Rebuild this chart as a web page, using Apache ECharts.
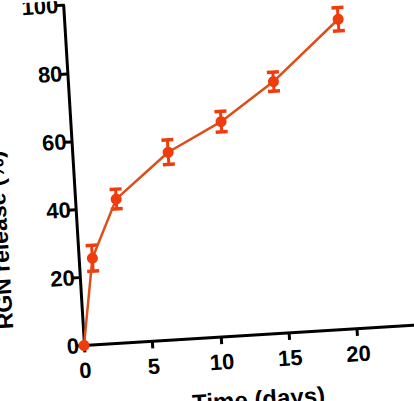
<!DOCTYPE html>
<html>
<head>
<meta charset="utf-8">
<script src="https://cdn.jsdelivr.net/npm/echarts@6/dist/echarts.min.js"></script>
<style>
  html, body { margin: 0; padding: 0; width: 414px; height: 401px; overflow: hidden; background: #fff; }
  /* the source figure is photographed slightly tilted */
  #chart { position: absolute; left: 0; top: 0; width: 470px; height: 430px;
           transform-origin: 84px 345.5px; transform: rotate(-3.5deg); }
</style>
</head>
<body>
<div id="chart"></div>
<script>
// release data
var days = [0, 1, 3, 7, 11, 15, 20];
var release = [0, 25.4, 42.3, 55.1, 63.1, 73.9, 91.0];
var releaseErr = [0, 3.8, 2.9, 3.6, 3.0, 2.8, 3.4];
var xTicks = [0, 5, 10, 15, 20, 25];
var yTicks = [0, 20, 40, 60, 80, 100];

var lineColor = "#de4e18";
var dotColor = "#f03c0c";
var font = "Liberation Sans, Arial, sans-serif";

var myChart = echarts.init(document.getElementById("chart"), null, { renderer: "svg" });

var points = days.map(function (d, i) { return [d, release[i]]; });
var errData = days.map(function (d, i) { return [d, release[i] - releaseErr[i], release[i] + releaseErr[i]]; });

var option = {
    animation: false,
    grid: {
        left: 84,
        top: 4.7,
        width: 342,
        height: 340.8,
        containLabel: false,
        outerBoundsMode: "none"
    },
    xAxis: {
        type: "value",
        min: xTicks[0],
        max: xTicks[xTicks.length - 1],
        interval: 5,
        name: "Time (days)",
        nameLocation: "middle",
        nameGap: 52,
        nameTextStyle: { color: "#000", fontSize: 24, fontWeight: "bold", fontFamily: font },
        axisLine: { onZero: false, lineStyle: { color: "#000", width: 3 } },
        axisTick: { show: true, length: 7, lineStyle: { color: "#000", width: 3 } },
        axisLabel: { margin: 14, color: "#000", fontSize: 22, fontWeight: "bold", fontFamily: font },
        splitLine: { show: false }
    },
    yAxis: {
        type: "value",
        min: yTicks[0],
        max: yTicks[yTicks.length - 1],
        interval: 20,
        name: "RGN release (%)",
        nameLocation: "middle",
        nameRotate: 90,
        nameGap: 66,
        nameTextStyle: { color: "#000", fontSize: 23, fontWeight: "bold", fontFamily: font, padding: [0, 120, 0, 0] },
        axisLine: { show: true, lineStyle: { color: "#000", width: 3 } },
        axisTick: { show: true, length: 8, lineStyle: { color: "#000", width: 3 } },
        axisLabel: { margin: 5, color: "#000", fontSize: 22, fontWeight: "bold", fontFamily: font },
        splitLine: { show: false }
    },
    series: [
        {
            type: "custom",
            z: 3,
            data: errData,
            renderItem: function (params, api) {
                var lo = api.coord([api.value(0), api.value(1)]);
                var hi = api.coord([api.value(0), api.value(2)]);
                if (Math.abs(lo[1] - hi[1]) < 1) return { type: "group", children: [] };
                var capW = 12, capH = 3.5;
                return {
                    type: "group",
                    children: [
                        { type: "line", shape: { x1: lo[0], y1: lo[1], x2: hi[0], y2: hi[1] },
                          style: { stroke: dotColor, lineWidth: 3 } },
                        { type: "rect", shape: { x: hi[0] - capW / 2, y: hi[1] - capH / 2, width: capW, height: capH },
                          style: { fill: dotColor } },
                        { type: "rect", shape: { x: lo[0] - capW / 2, y: lo[1] - capH / 2, width: capW, height: capH },
                          style: { fill: dotColor } }
                    ]
                };
            }
        },
        {
            type: "line",
            z: 4,
            data: points,
            symbol: "circle",
            symbolSize: 11,
            lineStyle: { color: lineColor, width: 2.5 },
            itemStyle: { color: dotColor }
        }
    ]
};

myChart.setOption(option);
window.addEventListener("resize", function () {
    myChart.resize();
});
</script>
</body>
</html>
